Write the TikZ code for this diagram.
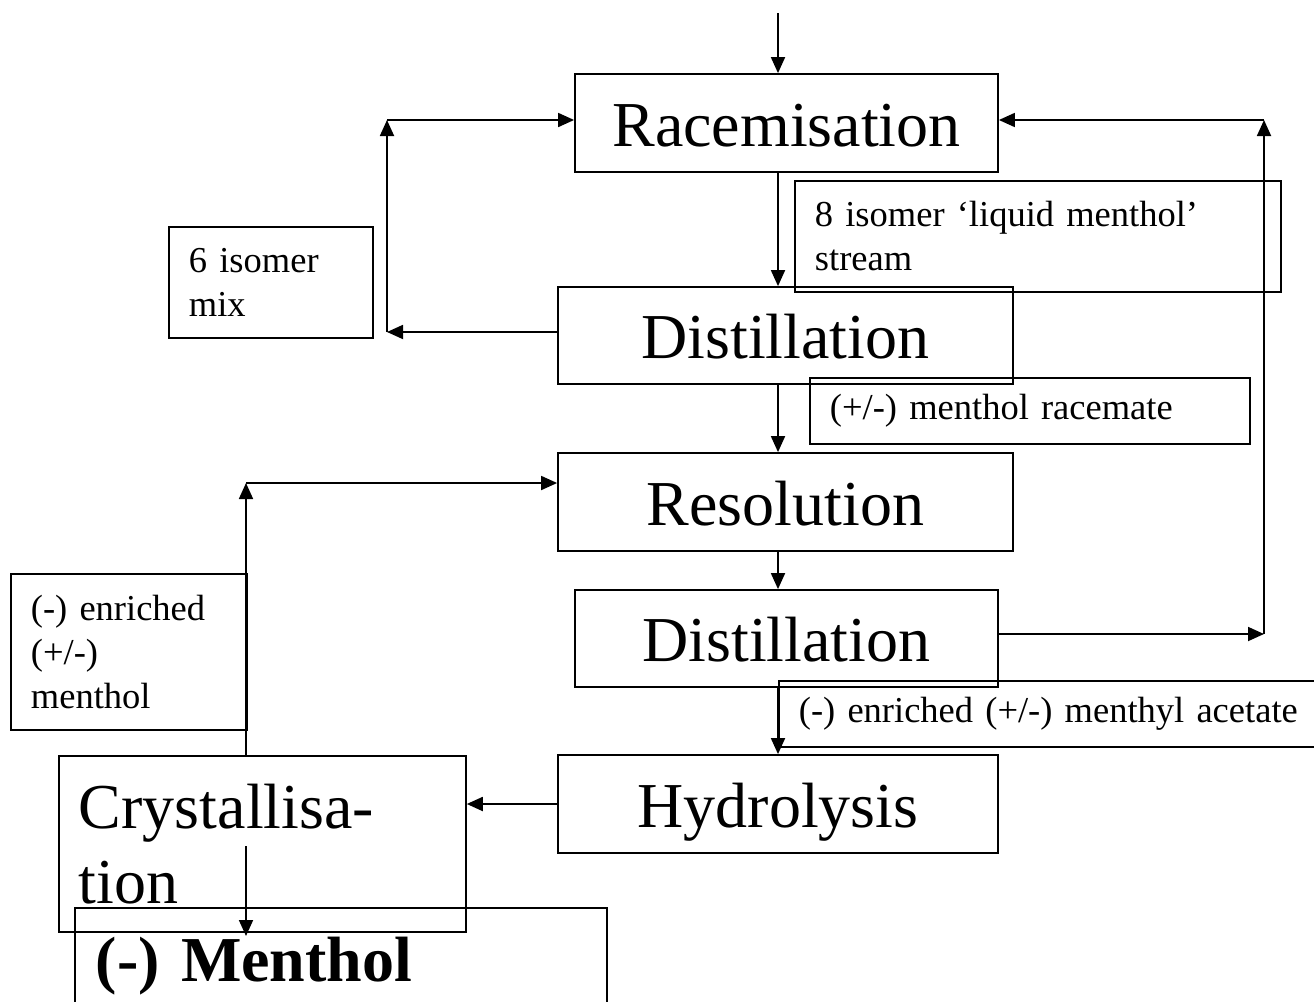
\documentclass[tikz,border=0pt]{standalone}
\usepackage{fontspec}
\setmainfont{Liberation Serif}
\usepackage{tikz}
\usetikzlibrary{
  arrows.meta,
  positioning,
  calc
}
\newcommand{\procfont}{\fontsize{64}{75}\selectfont}
\newcommand{\notefont}{\fontsize{36.5}{44}\selectfont}
\tikzset{
  procbox/.style={draw, line width=1.8pt, font=\procfont, inner sep=0pt, align=center,
    text height=59pt, text depth=13pt},
  notebox/.style={draw, line width=1.8pt, font=\notefont, anchor=north west,
    align=left, inner xsep=20pt, inner ysep=0pt},
  flow/.style={-{Triangle[length=16pt, width=14pt]}, line width=1.8pt}
}

\begin{document}
\begin{tikzpicture}[x=1pt, y=-1pt]
  \useasboundingbox (0,0) rectangle (1314,1001);
  \clip (0,0) rectangle (1314,1001);

  % main process column
  \node[procbox, minimum width=423, minimum height=98] (race) at (786.5,123) {Racemisation};
  \node[procbox, minimum width=455, minimum height=97] (dist1) at (785.5,335.5) {Distillation};
  \node[procbox, minimum width=455, minimum height=98] (resol) at (785.5,502) {Resolution};
  \node[procbox, minimum width=423, minimum height=97] (dist2) at (786.5,638.5) {Distillation};
  \node[procbox, minimum width=440, minimum height=98] (hydro) at (778,804) {Hydrolysis};
  \node[procbox, anchor=north west, align=left, inner xsep=20pt, text width=367pt,
    text height=, text depth=, minimum height=176] (cryst) at (58,755) {Crystallisa-\\tion};
  \node[procbox, anchor=north west, align=left, inner xsep=21pt, text width=490pt,
    text height=, text depth=, minimum height=116, font=\procfont\bfseries] (menth) at (74,907)
    {(-) Menthol};

  % stream labels
  \node[notebox, text width=446pt, minimum height=111] (liquid) at (794,180)
    {8 isomer ‘liquid menthol’\\stream};
  \node[notebox, text width=164pt, minimum height=111] (mix) at (168,226)
    {6 isomer\\mix};
  \node[notebox, text width=400pt, minimum height=66] (racem) at (809,377)
    {(+/-) menthol racemate};
  \node[notebox, text width=196pt, minimum height=156] (enrich) at (10,573)
    {(-) enriched\\(+/-)\\menthol};
  \node[notebox, text width=560pt, minimum height=66] (acet) at (778,680)
    {(-) enriched (+/-) menthyl acetate};

  % loose ends and corners
  \coordinate (feed) at (778,13);
  \coordinate (mixdn) at (387,332);
  \coordinate (mixup) at (387,120);
  \coordinate (recdn) at (1264,634);
  \coordinate (recup) at (1264,120);
  \coordinate (crup) at (246,483);
  \coordinate (crout) at (246,846);
  \coordinate (crend) at (246,936);

  % down the column
  \draw[flow] (feed) -- (feed |- race.north);
  \draw[flow] (feed |- race.south) -- (feed |- dist1.north);
  \draw[flow] (feed |- dist1.south) -- (feed |- resol.north);
  \draw[flow] (feed |- resol.south) -- (feed |- dist2.north);
  \draw[flow] (feed |- dist2.south) -- (feed |- hydro.north);
  \draw[flow] (hydro.west) -- (hydro.west -| cryst.east);
  \draw[flow] (crout) -- (crend);

  % recycle loops
  \draw[flow] (dist1.west |- mixdn) -- (mixdn);
  \draw[flow] (mixdn) -- (mixup);
  \draw[flow] (mixup) -- (mixup -| race.west);
  \draw[flow] (dist2.east |- recdn) -- (recdn);
  \draw[flow] (recdn) -- (recup);
  \draw[flow] (recup) -- (recup -| race.east);
  \draw[flow] (crup |- cryst.north) -- (crup);
  \draw[flow] (crup) -- (crup -| resol.west);
\end{tikzpicture}
\end{document}
